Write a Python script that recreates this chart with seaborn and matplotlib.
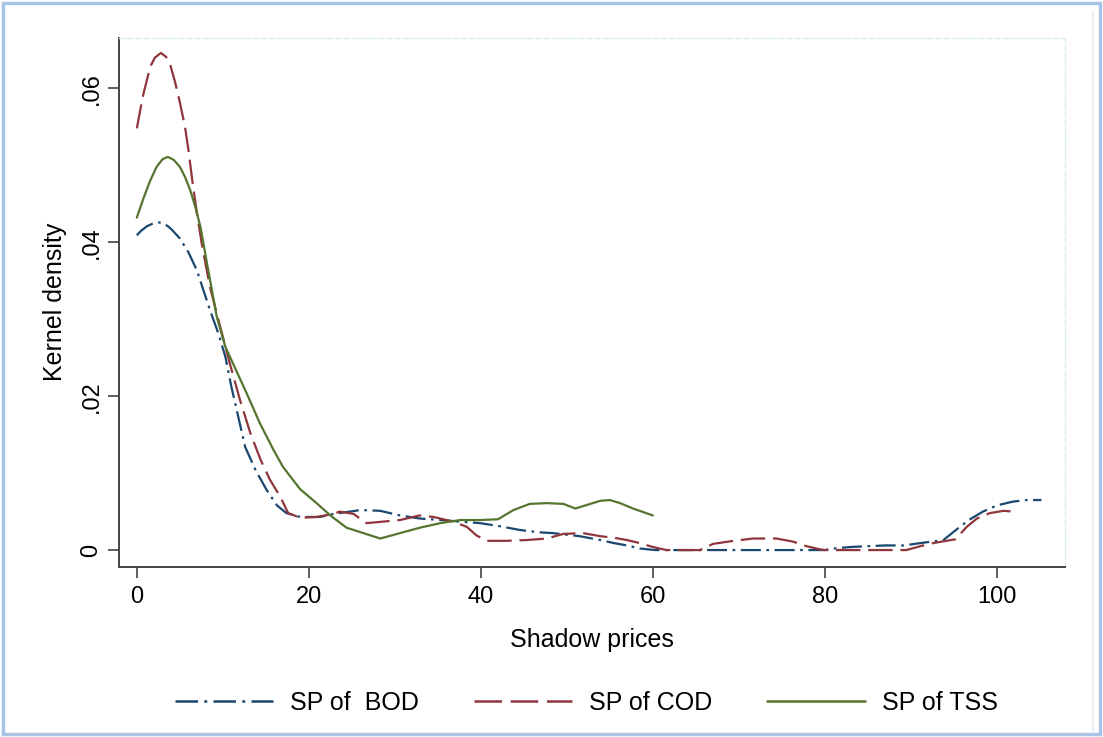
import matplotlib
matplotlib.use("Agg")
import matplotlib.pyplot as plt
import seaborn as sns
import pandas as pd
from matplotlib.patches import Rectangle
from matplotlib.lines import Line2D

# ---- data ----
bod_x = [0, 0.5, 1.2, 1.8, 2.4, 3.0, 3.6, 4.1, 5.0, 6.0, 7.0, 8.5, 9.5, 10.3, 11.0, 11.8,
         12.6, 13.8, 15.1, 16.3, 17.4, 19.0, 21.3, 22.9, 24.8, 26, 28.3, 30.6, 32.9, 35.3,
         37.6, 39.9, 42.2, 44.6, 46.9, 48.4, 51.5, 53.9, 55.5, 57, 58.5, 60.3, 65, 70, 75,
         80, 81, 83, 85, 87, 89.2, 91.1, 93.8, 95.7, 96.9, 98.4, 100, 101.9, 103.5, 105.2]
bod_y = [0.0409, 0.0415, 0.0421, 0.0424, 0.0426, 0.0425, 0.0421, 0.0416, 0.0405, 0.0387,
         0.0363, 0.0312, 0.0281, 0.0251, 0.0212, 0.0173, 0.0134, 0.0104, 0.0078, 0.0058,
         0.0048, 0.0043, 0.0043, 0.0047, 0.0050, 0.0052, 0.0051, 0.0045, 0.0041, 0.0039,
         0.0037, 0.0035, 0.0031, 0.0026, 0.0023, 0.0022, 0.0018, 0.0013, 0.0009, 0.0006,
         0.0002, 0.0, 0.0, 0.0, 0.0, 0.0, 0.0002, 0.0004, 0.0005, 0.0006, 0.0006, 0.0009,
         0.0013, 0.0030, 0.0040, 0.0050, 0.0058, 0.0063, 0.0065, 0.0065]

cod_x = [0, 0.4, 0.77, 1.2, 1.55, 2.1, 2.8, 3.4, 3.9, 4.45, 5.0, 5.6, 6.0, 6.5, 7.0, 7.55,
         8.5, 9.7, 10.8, 12.0, 13.2, 14.4, 15.5, 16.7, 17.6, 19.0, 20.9, 22.9, 23.6, 25.2,
         26.7, 28.7, 30.6, 32.9, 34.5, 36.8, 38.4, 39.5, 40.7, 43, 45.3, 47.7, 49.6, 51.9,
         53.9, 55.5, 57, 58.5, 60, 61.6, 65.5, 67, 69.4, 71.7, 74.4, 76.3, 77.9, 79.4, 80,
         85, 89.5, 91.1, 92.6, 95.2, 96.5, 97.7, 99.2, 100.8, 101.9]
cod_y = [0.0548, 0.0572, 0.0593, 0.0612, 0.0628, 0.0640, 0.0646, 0.0641, 0.0630, 0.0608,
         0.0582, 0.0550, 0.0520, 0.0476, 0.0437, 0.0398, 0.0342, 0.0290, 0.0243, 0.0195,
         0.0152, 0.0117, 0.0091, 0.0069, 0.0048, 0.0042, 0.0043, 0.0047, 0.0050, 0.0047,
         0.0035, 0.0037, 0.0039, 0.0045, 0.0043, 0.0037, 0.0030, 0.0019, 0.0012, 0.0012,
         0.0013, 0.0015, 0.0021, 0.0022, 0.0018, 0.0016, 0.0013, 0.0009, 0.0004, 0.0, 0.0,
         0.0008, 0.0012, 0.0015, 0.0015, 0.0011, 0.0005, 0.0001, 0.0, 0.0, 0.0, 0.0005,
         0.0009, 0.0014, 0.0030, 0.0041, 0.0048, 0.0051, 0.0050]

tss_x = [0, 0.8, 1.55, 2.3, 3.0, 3.6, 4.3, 5.0, 5.6, 6.2, 6.8, 7.4, 8.2, 9.3, 10.3, 11.2,
         12.8, 14.3, 15.9, 17.0, 19.0, 20.9, 22.5, 24.4, 28.3, 30.6, 32.9, 35.3, 37.6, 39.9,
         42.0, 43.8, 45.7, 47.7, 49.6, 51.0, 53.9, 55.0, 56.2, 57.7, 60]
tss_y = [0.0432, 0.0458, 0.0480, 0.0498, 0.0508, 0.0511, 0.0507, 0.0498, 0.0485, 0.0468,
         0.0446, 0.0420, 0.0370, 0.0303, 0.0264, 0.0242, 0.0203, 0.0165, 0.0130, 0.0108,
         0.0079, 0.0061, 0.0045, 0.0029, 0.0015, 0.0022, 0.0029, 0.0035, 0.0039, 0.0039,
         0.0040, 0.0052, 0.0060, 0.0061, 0.0060, 0.0054, 0.0064, 0.0065, 0.0061, 0.0054,
         0.0045]

series_labels = ["SP of  BOD", "SP of COD", "SP of TSS"]
x_ticks = [0, 20, 40, 60, 80, 100]
y_ticks = [0, 0.02, 0.04, 0.06]
y_tick_labels = ["0", ".02", ".04", ".06"]

# ---- style ----
sns.set_theme(style="white")
plt.rcParams["font.family"] = ["Liberation Sans", "DejaVu Sans"]
plt.rcParams["text.color"] = "black"
plt.rcParams["axes.labelcolor"] = "black"

colors = ["#1a476f", "#90353b", "#55752f"]
styles = [(0, (9, 2.5, 1.2, 2.5)), (0, (11, 3.5)), "-"]

fig = plt.figure(figsize=(11.03, 7.37), dpi=100)
ax = fig.add_axes([0.108, 0.231, 0.858, 0.718])

frames = [(bod_x, bod_y), (cod_x, cod_y), (tss_x, tss_y)]
for (xs, ys), c, ls in zip(frames, colors, styles):
    df = pd.DataFrame({"x": xs, "y": ys})
    sns.lineplot(data=df, x="x", y="y", ax=ax, color=c, linestyle=ls,
                 linewidth=1.6, estimator=None, sort=False)

ax.set_xlim(-2.06, 108.0)
ax.set_ylim(-0.00217, 0.0666)
ax.set_xticks(x_ticks)
ax.set_xticklabels([str(t) for t in x_ticks], fontsize=17)
ax.set_yticks(y_ticks)
ax.set_yticklabels(y_tick_labels, fontsize=17, rotation=90, va="center")

ax.tick_params(axis="both", which="both", direction="out", length=8, width=1.1,
               color="#333333", labelcolor="black", bottom=True, left=True)
ax.tick_params(axis="x", pad=6)
ax.tick_params(axis="y", pad=4)

for side in ["left", "bottom"]:
    ax.spines[side].set_color("#444444")
    ax.spines[side].set_linewidth(1.4)
for side in ["top", "right"]:
    ax.spines[side].set_color("#dcebee")
    ax.spines[side].set_linewidth(1.0)
    ax.spines[side].set_linestyle((0, (4, 2)))

ax.set_xlabel("Shadow prices", fontsize=18, labelpad=14, color="black")
ax.set_ylabel("Kernel density", fontsize=18, labelpad=10, color="black")

handles = [Line2D([0], [0], color=c, linestyle=ls, linewidth=1.8)
           for c, ls in zip(colors, styles)]
leg = fig.legend(handles, series_labels, loc="center", bbox_to_anchor=(0.532, 0.046),
                 ncol=3, frameon=False, fontsize=18, handlelength=3.9, columnspacing=2.2,
                 handletextpad=0.7)
for t in leg.get_texts():
    t.set_color("black")

# figure border (light blue frame)
fig.patches.append(Rectangle((0.003, 0.004), 0.994, 0.992, transform=fig.transFigure,
                             fill=False, edgecolor="#a9c4e6", linewidth=2.5))
fig.add_artist(Line2D([0.991, 0.991], [0.01, 0.985], transform=fig.transFigure,
                      color="#e8f0f6", linewidth=1.5))

fig.savefig("out.png", dpi=100, facecolor="white")
